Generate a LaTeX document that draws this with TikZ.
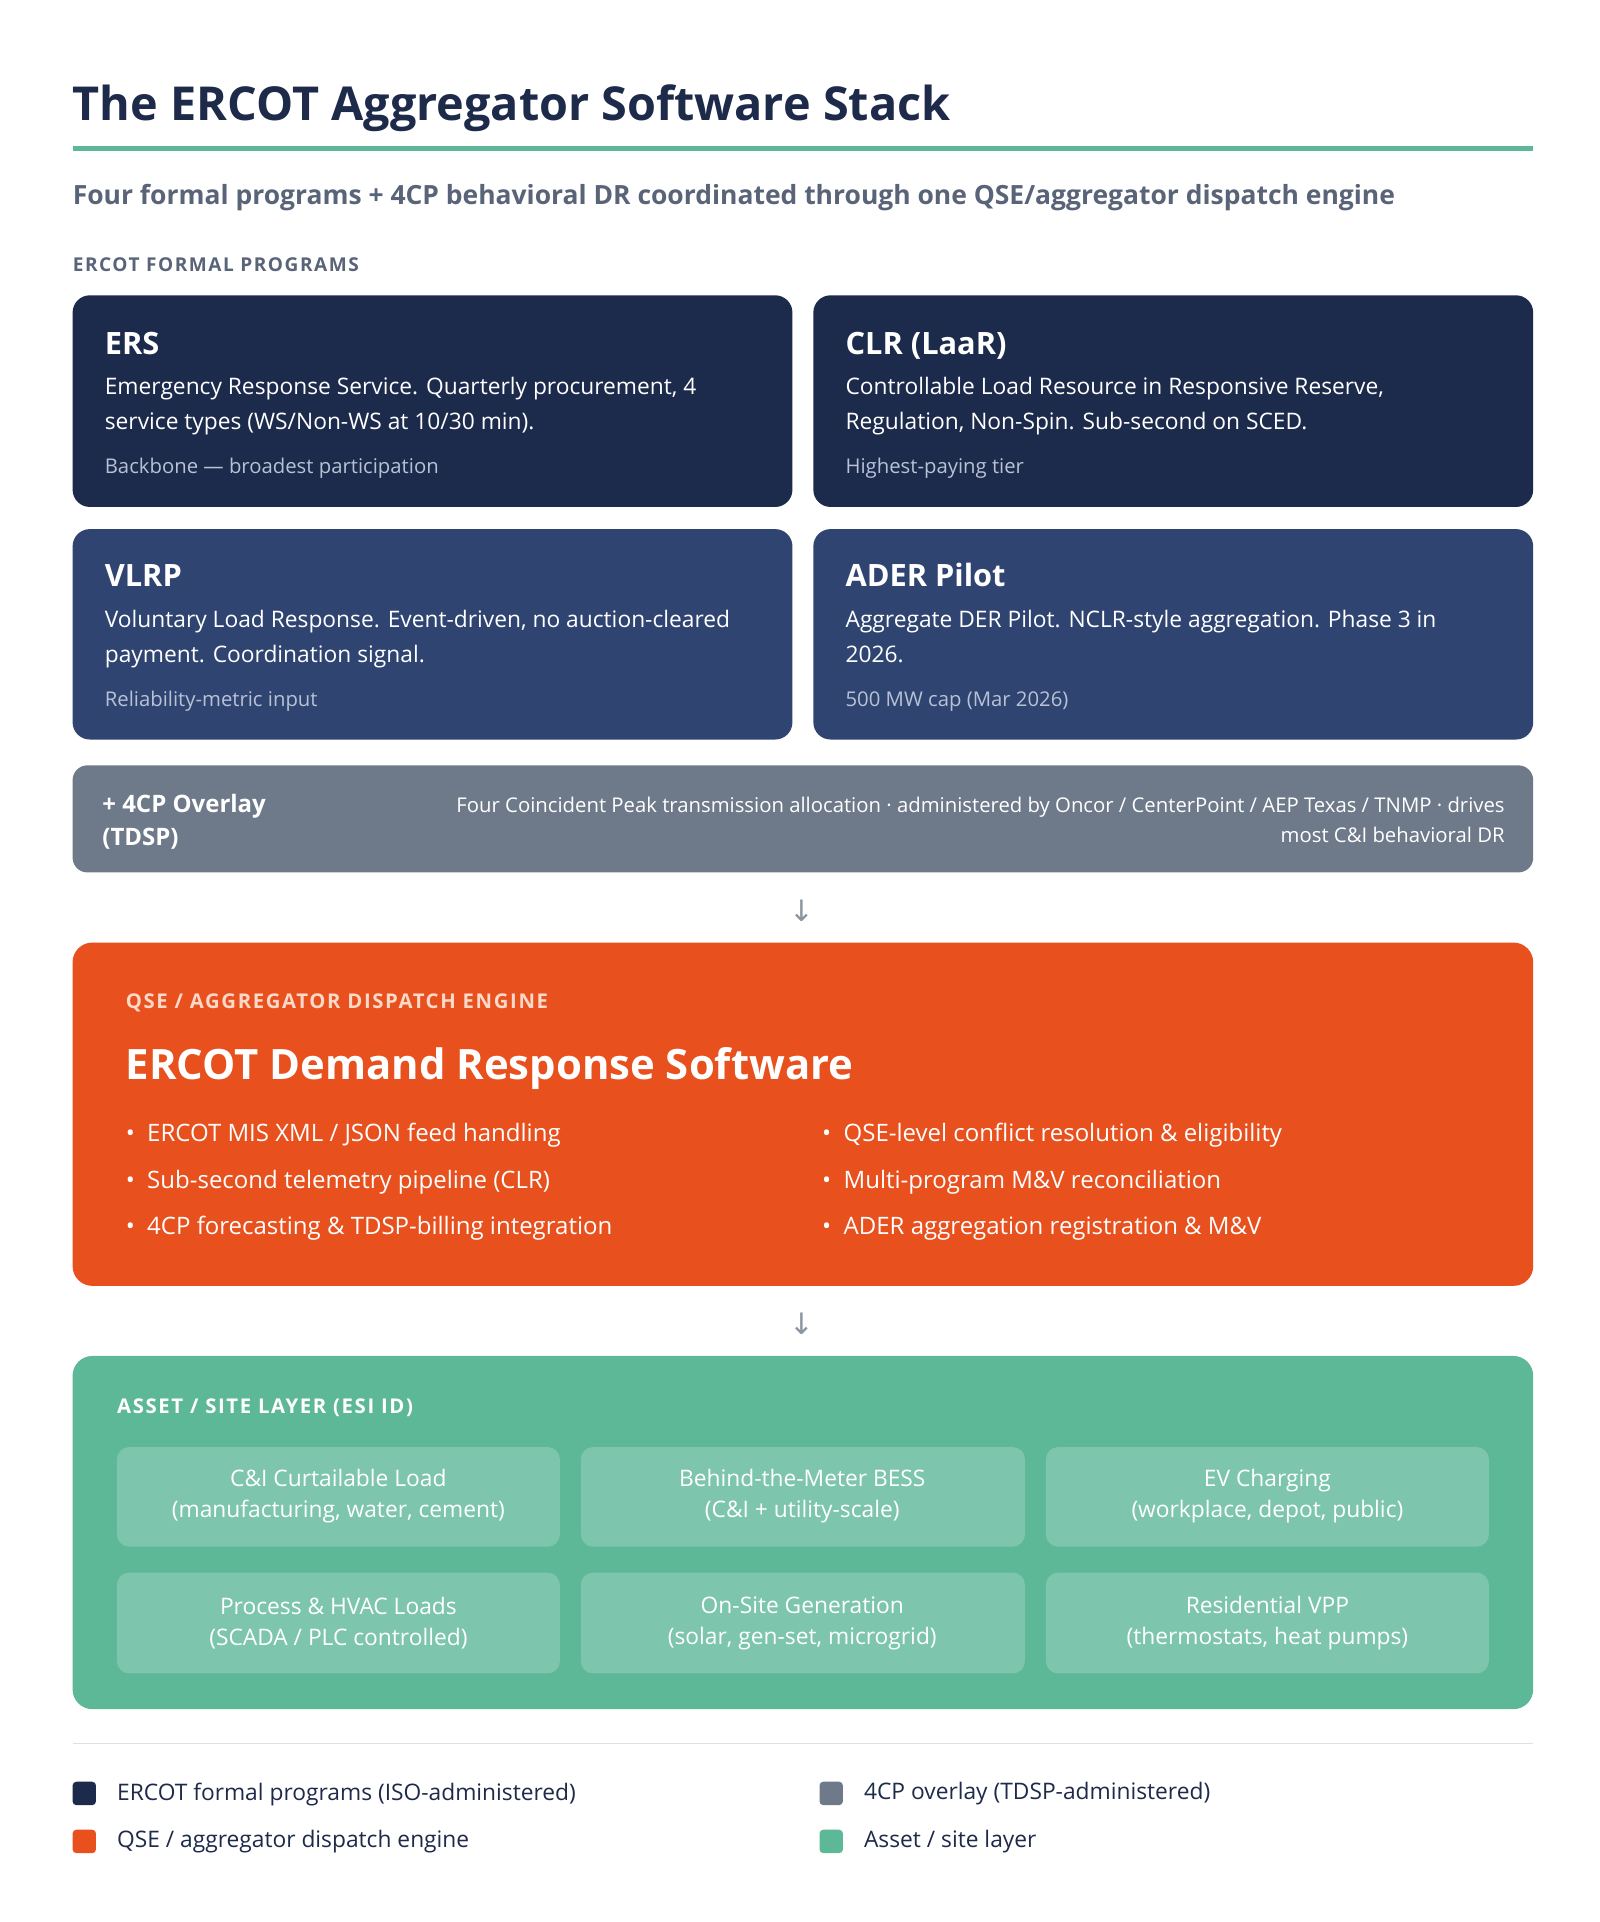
\documentclass[tikz,border=0pt]{standalone}
\usepackage{fontspec}
\setmainfont{Open Sans}
\newfontfamily\sym{DejaVu Sans}
\begin{document}
\definecolor{navy}{HTML}{1C2A4B}
\definecolor{navyb}{HTML}{2F4470}
\definecolor{slate}{HTML}{6E7A8A}
\definecolor{orng}{HTML}{E8501E}
\definecolor{grn}{HTML}{5DB898}
\definecolor{grnl}{HTML}{7DC6AD}
\definecolor{ink}{HTML}{1E2A4A}
\definecolor{sub}{HTML}{5A6478}
\definecolor{pale}{HTML}{B8C2D6}
\definecolor{peach}{HTML}{FCD9C8}
\newcommand{\fs}[1]{\fontsize{#1}{\dimexpr #1pt*3/2\relax}\selectfont}
\begin{tikzpicture}[x=1pt,y=-1pt,
  box/.style={rounded corners=14pt,draw=none},
  lbl/.style={anchor=base west,inner sep=0pt,text=white},
  ttl/.style={lbl,font=\fs{25}\bfseries},
  bdy/.style={lbl,align=left,font=\fontsize{18.5}{28}\selectfont},
  sml/.style={lbl,text=pale,font=\fs{16.5}},
  bul/.style={lbl,font=\fs{19.5}},
  cell/.style={fill=grnl,rounded corners=10pt,draw=none},
  ctext/.style={text=white,align=center,font=\fontsize{18.5}{25}\selectfont,inner sep=0pt},
  arr/.style={text=slate!80,font=\sym\fs{24}},
  leg/.style={anchor=west,inner sep=0pt,text=ink,font=\fs{18.5}}]
\useasboundingbox[fill=white] (0,0) rectangle (1300,1562);
\node[anchor=base west,inner sep=0pt,text=ink,font=\fs{38}\bfseries] (title) at (59,98) {The ERCOT Aggregator Software Stack};
\draw[line width=4pt,grn] (59,121) coordinate (l1) -- (1246,121) coordinate (l2);
\node[anchor=base west,inner sep=0pt,text=sub,font=\fs{21.5}\bfseries] (subt) at (59,166) {Four formal programs + 4CP behavioral DR coordinated through one QSE/aggregator dispatch engine};
\node[anchor=base west,inner sep=0pt,text=sub,font=\fs{15.5}\bfseries\addfontfeature{LetterSpace=8}] (sec) at (59,221) {ERCOT FORMAL PROGRAMS};
% program boxes
\fill[box,navy] (59,240) rectangle (644,412);
\fill[box,navy] (661,240) rectangle (1246,412);
\fill[box,navyb] (59,430) rectangle (644,601);
\fill[box,navyb] (661,430) rectangle (1246,601);
\node[ttl] (ers) at (85,288) {ERS};
\node[bdy] (ersb) at (85,349) {Emergency Response Service. Quarterly procurement, 4\\service types (WS/Non-WS at 10/30 min).};
\node[sml] (erss) at (85,385) {Backbone — broadest participation};
\node[ttl] (clr) at (687,288) {CLR (LaaR)};
\node[bdy] (clrb) at (687,349) {Controllable Load Resource in Responsive Reserve,\\Regulation, Non-Spin. Sub-second on SCED.};
\node[sml] (clrs) at (687,385) {Highest-paying tier};
\node[ttl] (vl) at (85,477) {VLRP};
\node[bdy] (vlb) at (85,538) {Voluntary Load Response. Event-driven, no auction-cleared\\payment. Coordination signal.};
\node[sml] (vls) at (85,574) {Reliability-metric input};
\node[ttl] (ad) at (687,477) {ADER Pilot};
\node[bdy] (adb) at (687,538) {Aggregate DER Pilot. NCLR-style aggregation. Phase 3 in\\2026.};
\node[sml] (ads) at (687,574) {500 MW cap (Mar 2026)};
% 4CP
\fill[rounded corners=12pt,slate] (59,622) rectangle (1246,709);
\node[lbl,align=left,font=\fontsize{19.5}{27}\selectfont\bfseries] (cp) at (83,687) {+ 4CP Overlay\\(TDSP)};
\node[anchor=base east,inner sep=0pt,text=white,align=right,font=\fontsize{16.5}{25}\selectfont] (cpt) at (1223,685) {Four Coincident Peak transmission allocation · administered by Oncor / CenterPoint / AEP Texas / TNMP · drives\\most C\&I behavioral DR};
\node[arr] (a1) at (652,740) {↓};
% orange
\fill[rounded corners=16pt,orng] (59,766) rectangle (1246,1045);
\node[anchor=base west,inner sep=0pt,text=peach,font=\fs{16.5}\bfseries\addfontfeature{LetterSpace=8}] (qh) at (102,820) {QSE / AGGREGATOR DISPATCH ENGINE};
\node[lbl,font=\fs{34}\bfseries] (qt) at (102,877) {ERCOT Demand Response Software};
\node[bul] (b1) at (102,928) {•\ \ ERCOT MIS XML / JSON feed handling};
\node[bul] (b2) at (102,966) {•\ \ Sub-second telemetry pipeline (CLR)};
\node[bul] (b3) at (102,1003) {•\ \ 4CP forecasting \& TDSP-billing integration};
\node[bul] (b4) at (668,928) {•\ \ QSE-level conflict resolution \& eligibility};
\node[bul] (b5) at (668,966) {•\ \ Multi-program M\&V reconciliation};
\node[bul] (b6) at (668,1003) {•\ \ ADER aggregation registration \& M\&V};
\node[arr] (a2) at (652,1076) {↓};
% green
\fill[rounded corners=16pt,grn] (59,1102) rectangle (1246,1389);
\node[anchor=base west,inner sep=0pt,text=white,font=\fs{16.5}\bfseries\addfontfeature{LetterSpace=8}] (gh) at (95,1149) {ASSET / SITE LAYER (ESI ID)};
\fill[cell] (95,1176) rectangle (455,1257);
\fill[cell] (472,1176) rectangle (833,1257);
\fill[cell] (850,1176) rectangle (1210,1257);
\fill[cell] (95,1278) rectangle (455,1360);
\fill[cell] (472,1278) rectangle (833,1360);
\fill[cell] (850,1278) rectangle (1210,1360);
\node[ctext] (c1) at (275,1216) {C\&I Curtailable Load\\(manufacturing, water, cement)};
\node[ctext] (c2) at (652,1216) {Behind-the-Meter BESS\\(C\&I + utility-scale)};
\node[ctext] (c3) at (1030,1216) {EV Charging\\(workplace, depot, public)};
\node[ctext] (c4) at (275,1319) {Process \& HVAC Loads\\(SCADA / PLC controlled)};
\node[ctext] (c5) at (652,1319) {On-Site Generation\\(solar, gen-set, microgrid)};
\node[ctext] (c6) at (1030,1319) {Residential VPP\\(thermostats, heat pumps)};
% legend
\draw[black!12,line width=1.2pt] (59,1417) coordinate (s1) -- (1246,1417) coordinate (s2);
\fill[navy,rounded corners=3pt] (59,1448) rectangle (78,1467);
\fill[orng,rounded corners=3pt] (59,1487) rectangle (78,1506);
\fill[slate,rounded corners=3pt] (666,1448) rectangle (685,1467);
\fill[grn,rounded corners=3pt] (666,1487) rectangle (685,1506);
\node[leg] (g1) at (95,1458) {ERCOT formal programs (ISO-administered)};
\node[leg] (g2) at (95,1497) {QSE / aggregator dispatch engine};
\node[leg] (g3) at (702,1458) {4CP overlay (TDSP-administered)};
\node[leg] (g4) at (702,1497) {Asset / site layer};
\end{tikzpicture}
\end{document}
